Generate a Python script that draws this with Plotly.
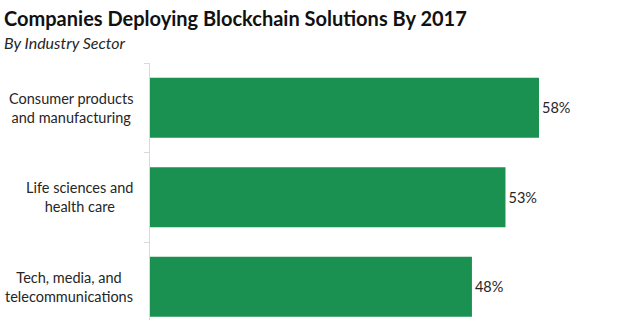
import plotly.graph_objects as go

categories = ["Consumer products<br>and manufacturing",
              "Life sciences and<br>health care",
              "Tech, media, and<br>telecommunications"]
values = [58, 53, 48]
value_labels = ["58%", "53%", "48%"]
title_text = "Companies Deploying Blockchain Solutions By 2017"
subtitle_text = "By Industry Sector"

W, H = 640, 320
L, T = 150, 63
plot_h = H - T
band = 89.5

fig = go.Figure()
fig.add_trace(go.Bar(
    x=values, y=list(range(len(categories))), orientation="h",
    marker=dict(color="#1a9150", line=dict(width=0)),
    width=0.67,
    text=value_labels, textposition="outside", cliponaxis=False,
    textfont=dict(family="Lato", size=14.5, color="#262626"),
))

annotations = []
for i, c in enumerate(categories):
    annotations.append(dict(
        text=c, xref="paper", x=0, xanchor="right", xshift=-15,
        yref="y", y=i, yanchor="middle", align="center", showarrow=False,
        font=dict(family="Lato", size=14.5, color="#262626"),
    ))
annotations.append(dict(
    text="<b>" + title_text + "</b>", xref="paper", x=(2 - L) / (W - L), xanchor="left",
    yref="paper", y=(H - 18) / plot_h, yanchor="middle", showarrow=False,
    font=dict(family="Lato", size=20, color="#111111"),
))
annotations.append(dict(
    text="<i>" + subtitle_text + "</i>", xref="paper", x=(2 - L) / (W - L), xanchor="left",
    yref="paper", y=(H - 42) / plot_h, yanchor="middle", showarrow=False,
    font=dict(family="Lato", size=16, color="#262626"),
))

fig.update_layout(
    width=W, height=H, margin=dict(l=L, r=0, t=T, b=0, pad=0),
    paper_bgcolor="white", plot_bgcolor="white", showlegend=False,
    annotations=annotations,
    xaxis=dict(range=[0, (W - L) / 6.707], visible=False, fixedrange=True),
    yaxis=dict(
        type="linear",
        range=[-0.5 + plot_h / band, -0.5],
        showgrid=False, zeroline=False, showticklabels=False,
        showline=True, linecolor="#d9d9d9", linewidth=1,
        ticks="outside", ticklen=5, tickcolor="#d9d9d9",
        tickmode="array", tickvals=[-0.5, 0.5, 1.5, 2.5],
    ),
)
fig.write_html("out.html")
